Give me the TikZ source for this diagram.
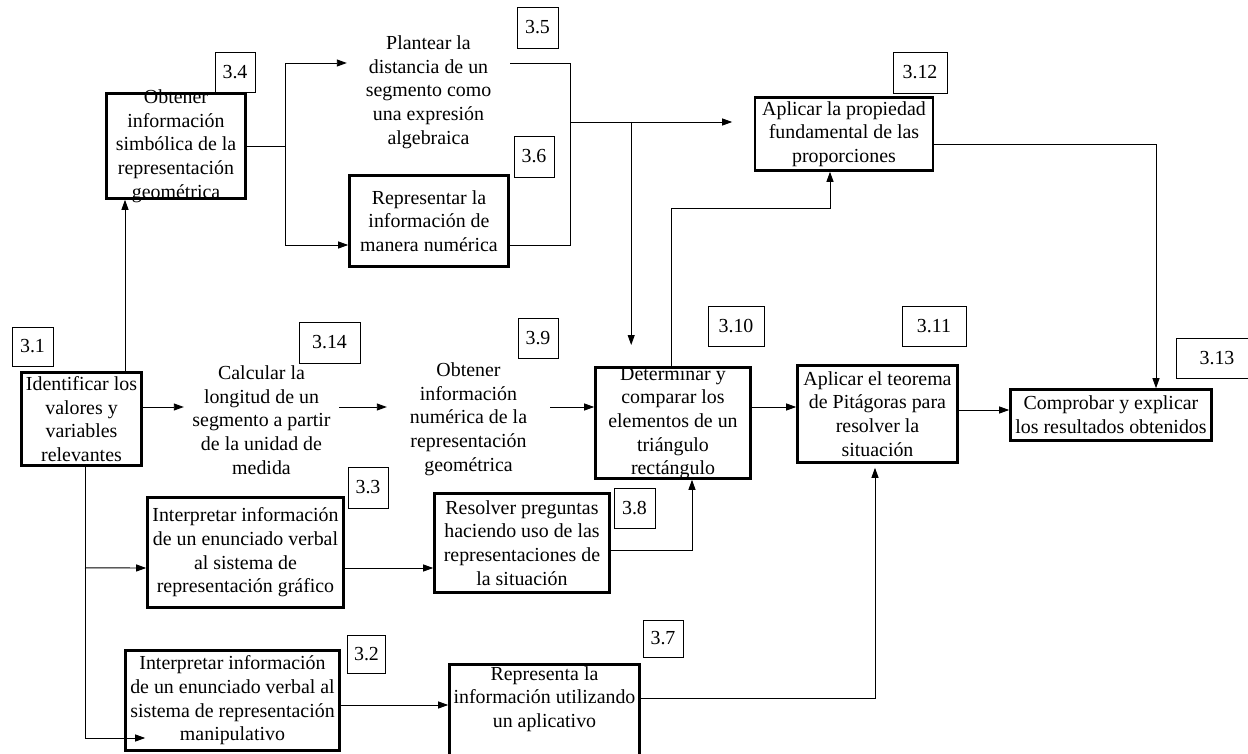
\documentclass[tikz,border=0pt]{standalone}
\usepackage{fontspec}
\setmainfont{Liberation Serif}
\usetikzlibrary{arrows.meta}

\begin{document}
\begin{tikzpicture}[x=1pt,y=-1pt,
  box/.style={draw,line width=2.6pt,inner sep=2pt,align=center,font=\fontsize{19.9}{23.7}\selectfont},
  txt/.style={inner sep=2pt,align=center,font=\fontsize{19.9}{23.7}\selectfont},
  num/.style={draw,line width=0.8pt,inner sep=0pt,font=\fontsize{19.9}{23.7}\selectfont},
  ln/.style={line width=0.9pt},
  arr/.style={line width=0.9pt,-{Triangle[length=10pt,width=7pt]}}]
  \useasboundingbox (0,0) rectangle (1248,754);
  % boxes
  \node[box,minimum width=120pt,minimum height=93pt] (n31) at (81.5,419) {Identificar los\\valores y\\variables\\relevantes};
  \node[box,minimum width=214pt,minimum height=100pt] (n32) at (232.5,700.5) {Interpretar información\\de un enunciado verbal al\\sistema de representación\\manipulativo};
  \node[box,minimum width=196pt,minimum height=110pt] (n33) at (245.5,552.5) {Interpretar información\\de un enunciado verbal\\al sistema de\\representación gráfico};
  \node[box,minimum width=139pt,minimum height=105pt] (n34) at (176,146) {};
  \node[txt] (t34) at (176,146) {Obtener\\información\\simbólica de la\\representación\\geométrica};
  \node[txt,minimum width=163pt,minimum height=120pt] (n35) at (428.5,92) {Plantear la\\distancia de un\\segmento como\\una expresión\\algebraica};
  \node[box,minimum width=159pt,minimum height=91pt] (n36) at (429,221) {Representar la\\información de\\manera numérica};
  \node[box,minimum width=190pt,minimum height=114pt] (n37) at (544.5,721.5) {};
  \node[txt] (t37) at (544.5,699) {Representa la\\información utilizando\\un aplicativo};
  \node[box,minimum width=175pt,minimum height=99pt] (n38) at (522,543) {Resolver preguntas\\haciendo uso de las\\representaciones de\\la situación};
  \node[txt,minimum width=163pt,minimum height=120pt] (n39) at (468.5,419) {Obtener\\información\\numérica de la\\representación\\geométrica};
  \node[box,minimum width=155pt,minimum height=111pt] (n310) at (673,423) {};
  \node[txt] (t310) at (673,423) {Determinar y\\comparar los\\elementos de un\\triángulo\\rectángulo};
  \node[box,minimum width=160pt,minimum height=97pt] (n311) at (877.5,414) {Aplicar el teorema\\de Pitágoras para\\resolver la\\situación};
  \node[box,minimum width=178pt,minimum height=73pt] (n312) at (844,134) {Aplicar la propiedad\\fundamental de las\\proporciones};
  \node[box,minimum width=201pt,minimum height=51pt] (n313) at (1111,415) {Comprobar y explicar\\los resultados obtenidos};
  \node[txt,minimum width=155pt,minimum height=120pt] (n314) at (261.5,420) {Calcular la\\longitud de un\\segmento a partir\\de la unidad de\\medida};
  % numbers
  \node[num,minimum width=41pt,minimum height=39pt] (l31) at (32.5,346.5) {3.1};
  \node[num,minimum width=38pt,minimum height=38pt] (l32) at (366.5,654) {3.2};
  \node[num,minimum width=40pt,minimum height=41pt] (l33) at (368,487.5) {3.3};
  \node[num,minimum width=40pt,minimum height=40pt] (l34) at (235,72) {3.4};
  \node[num,minimum width=41pt,minimum height=41pt] (l35) at (537.5,27.5) {3.5};
  \node[num,minimum width=40pt,minimum height=41pt] (l36) at (534,156.5) {3.6};
  \node[num,minimum width=40pt,minimum height=37pt] (l37) at (663,638.5) {3.7};
  \node[num,minimum width=41pt,minimum height=40pt] (l38) at (634.5,508) {3.8};
  \node[num,minimum width=40pt,minimum height=40pt] (l39) at (538,338) {3.9};
  \node[num,minimum width=56pt,minimum height=40pt] (l310) at (736,326) {3.10};
  \node[num,minimum width=64pt,minimum height=40pt] (l311) at (934,326) {3.11};
  \node[num,minimum width=54pt,minimum height=41pt] (l312) at (920,72.5) {3.12};
  \node[num,minimum width=82pt,minimum height=40pt] (l313) at (1217,358) {3.13};
  \node[num,minimum width=61pt,minimum height=41pt] (l314) at (329.5,342.5) {3.14};
  % connectors
  \draw[arr] ([xshift=43.5pt]n31.north) -- ([xshift=-51pt]n34.south);
  \draw[ln] (n34.east) -- ++(39,0) coordinate (s34);
  \draw[arr] (s34) |- ([yshift=29pt]n35.west);
  \draw[arr] (s34) |- ([yshift=-24pt]n36.west);
  \draw[ln] ([yshift=29pt]n35.east) -- ++(60,0) coordinate (s35) |- ([yshift=-24pt]n36.east);
  \coordinate (s36) at ([yshift=-59pt]s35);
  \coordinate (s37) at ([xshift=61pt]s36);
  \draw[arr] (s36) -- ++(162,0);
  \draw[arr] (s37) -- ++(0,223);
  \draw[arr] ([xshift=-2pt]n310.north) -- ++(0,-158) -| ([xshift=-14pt]n312.south);
  \draw[arr] ([yshift=12pt]n31.east) -- ([yshift=13pt]n314.west);
  \draw[arr] ([yshift=13pt]n314.east) -- ([yshift=12pt]n39.west);
  \draw[arr] ([yshift=12pt]n39.east) -- ([yshift=16pt]n310.west);
  \draw[arr] ([yshift=16pt]n310.east) -- ([yshift=7pt]n311.west);
  \draw[arr] ([yshift=4pt]n311.east) -- ([yshift=5pt]n313.west);
  \draw[arr] ([yshift=-10pt]n312.east) -| ([xshift=45pt]n313.north);
  \draw[arr] ([xshift=3.5pt]n31.south) |- ([xshift=21pt,yshift=-37.5pt]n32.west);
  \draw[arr] ([xshift=3.5pt,yshift=-101pt]n31.south) -- ([yshift=-15.5pt]n33.west);
  \draw[arr] ([yshift=-15.5pt]n33.east) -- ([yshift=-25pt]n38.west);
  \draw[arr] ([yshift=-7pt]n38.east) -| ([xshift=19pt]n310.south);
  \draw[arr] ([yshift=-4.5pt]n32.east) -- ([yshift=16.5pt]n37.west);
  \draw[arr] ([yshift=23.5pt]n37.east) -| ([xshift=-2.5pt,yshift=-4pt]n311.south);
\end{tikzpicture}
\end{document}
